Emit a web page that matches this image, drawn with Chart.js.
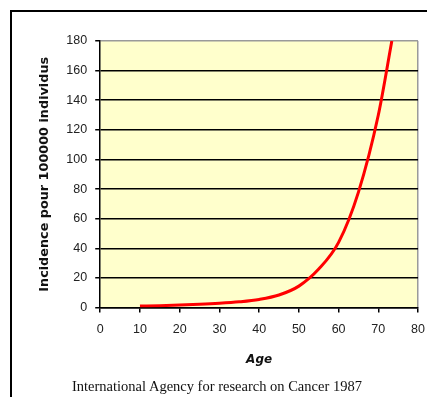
<!DOCTYPE html>
<html>
<head>
<meta charset="utf-8">
<script src="https://cdn.jsdelivr.net/npm/chart.js@4"></script>
<style>
  body { margin: 0; background: #fff; }
  #wrap { position: relative; width: 427px; height: 397px; overflow: hidden; }
  #frame { position: absolute; left: 10px; top: 10px; width: 430px; height: 400px;
           border-left: 2px solid #000; border-top: 2px solid #000; }
  #caption { position: absolute; left: 72px; top: 378px; font-family: "Liberation Serif", serif;
             font-size: 14.5px; color: #111; white-space: nowrap; }
  canvas { position: absolute; left: 0; top: 0; }
</style>
</head>
<body>
<div id="wrap">
  <div id="frame"></div>
  <canvas id="lineChart" width="434" height="397"></canvas>
  <div id="caption">International Agency for research on Cancer 1987</div>
</div>
<script>
var ages = [10, 15, 20, 25, 30, 35, 40, 45, 50, 55, 60, 65, 70, 73.4];
var incidence = [1.0, 1.3, 1.7, 2.2, 2.9, 3.9, 5.5, 8.5, 14.5, 26, 44, 78, 130, 180];
var xTicks = [0, 10, 20, 30, 40, 50, 60, 70, 80];
var yTicks = [0, 20, 40, 60, 80, 100, 120, 140, 160, 180];

var points = ages.map(function (a, i) {
  return { x: a, y: incidence[i] };
});

var plotBg = {
  id: "plotBg",
  beforeDraw: function (chart) {
    var a = chart.chartArea;
    var c = chart.ctx;
    c.save();
    c.fillStyle = "#FFFFCC";
    c.fillRect(a.left, a.top, a.right - a.left, a.bottom - a.top);
    c.restore();
  }
};

const ctx = document.getElementById("lineChart");

var chart = new Chart(ctx, {
  type: "scatter",
  data: {
    datasets: [
      {
        label: "Incidence",
        data: points,
        showLine: true,
        borderColor: "#FF0000",
        borderWidth: 3,
        pointRadius: 0,
        cubicInterpolationMode: "monotone",
        fill: false
      }
    ]
  },
  options: {
    responsive: false,
    animation: false,
    layout: { padding: { left: 37, right: 1, top: 41, bottom: 30 } },
    plugins: {
      legend: { display: false },
      tooltip: { enabled: false }
    },
    scales: {
      x: {
        type: "linear",
        min: 0,
        max: 80,
        afterBuildTicks: function (axis) {
          axis.ticks = xTicks.map(function (v) { return { value: v }; });
        },
        grid: {
          color: function (c) { return c.tick && c.tick.value === 80 ? "#9a9a9a" : "rgba(0,0,0,0)"; },
          tickColor: "#000",
          tickLength: 5,
          lineWidth: 1.5
        },
        border: { color: "#000", width: 1.5 },
        ticks: { color: "#222", padding: 9, font: { family: "Liberation Sans", size: 12.5 } },
        title: {
          display: true,
          text: "Age",
          color: "#111",
          padding: { top: 7, bottom: 0 },
          font: { family: "DejaVu Sans", size: 12, weight: "bold", style: "italic" }
        }
      },
      y: {
        min: 0,
        max: 180,
        afterBuildTicks: function (axis) {
          axis.ticks = yTicks.map(function (v) { return { value: v }; });
        },
        grid: {
          color: function (c) { return c.tick && c.tick.value === 180 ? "#9a9a9a" : "#000"; },
          tickColor: "#000",
          tickLength: 5,
          lineWidth: 1.5
        },
        border: { color: "#000", width: 1.5 },
        ticks: { color: "#222", padding: 8, font: { family: "Liberation Sans", size: 12.5 } },
        title: {
          display: true,
          text: "Incidence pour 100000 individus",
          color: "#111",
          padding: { top: 0, bottom: 6 },
          font: { family: "DejaVu Sans", size: 12.8, weight: "bold" }
        }
      }
    }
  },
  plugins: [plotBg]
});
</script>
</body>
</html>
